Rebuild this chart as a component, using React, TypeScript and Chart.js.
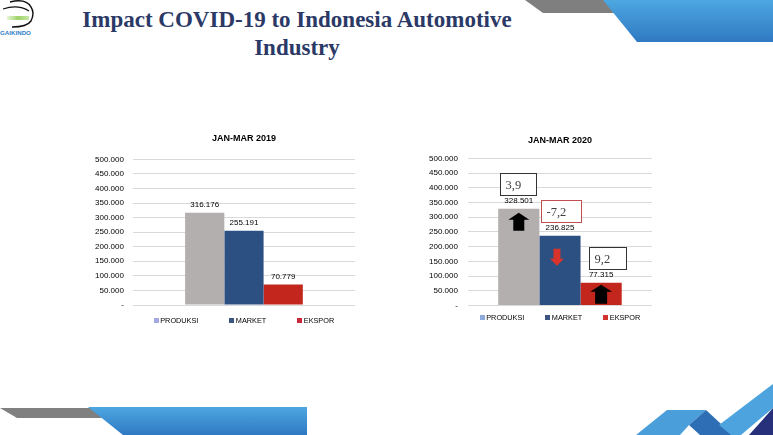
import React, { useEffect, useRef } from "react";
import { Chart, registerables } from "chart.js";

Chart.register(...registerables);

// ---------- data ----------
const SERIES = ["PRODUKSI", "MARKET", "EKSPOR"];
const TITLE_2019 = "JAN-MAR 2019";
const TITLE_2020 = "JAN-MAR 2020";
const VALUES_2019 = [316176, 255191, 70779];
const VALUES_2020 = [328501, 236825, 77315];
const GROWTH_2020 = ["3,9", "-7,2", "9,2"];
const Y_MIN = 0;
const Y_MAX = 500000;
const Y_STEP = 50000;
const HEADLINE = ["Impact COVID-19 to Indonesia Automotive", "Industry"];
const LOGO_TEXT = "GAIKINDO";

// ---------- styles ----------
const SANS = "'Liberation Sans', Arial, sans-serif";
const SERIF = "'Liberation Serif', 'Times New Roman', serif";
const BAR_COLORS = ["#B4AFAF", "#2D5082", "#C3261C"];
const LEGEND_COLORS_2019 = ["#A6A8E2", "#3B5580", "#C8283A"];
const LEGEND_COLORS_2020 = ["#8EA9DB", "#3B5580", "#D0342C"];
const BOX_STYLE = [
  { dx: 2, w: 36, color: "#333333" },
  { dx: 2, w: 40, color: "#C0504D" },
  { dx: 8, w: 37, color: "#333333" },
];
const ARROW_STYLE = [
  { dx: 0, dy: 4, len: 18, headW: 21, headH: 7, shaftW: 11, color: "#000000" },
  { dx: -3, dy: 13, len: 17, headW: 14, headH: 7, shaftW: 7, color: "#D9342B" },
  { dx: 0, dy: 2, len: 19, headW: 22, headH: 7, shaftW: 12, color: "#000000" },
];

const fmt = (v: number) =>
  v === 0 ? "-" : String(Math.round(v)).replace(/\B(?=(\d{3})+(?!\d))/g, ".");

const valueLabelPlugin = {
  id: "valueLabels",
  afterDatasetsDraw(chart: any) {
    const ctx = chart.ctx;
    ctx.save();
    ctx.font = `8px ${SANS}`;
    ctx.fillStyle = "#000";
    ctx.textAlign = "center";
    ctx.textBaseline = "middle";
    chart.data.datasets.forEach((ds: any, i: number) => {
      const el = chart.getDatasetMeta(i).data[0];
      ctx.fillText(fmt(ds.data[0]), el.x, el.y - 8);
    });
    ctx.restore();
  },
};

function makeLegendPlugin(colors: string[], dy: number, spacing: number) {
  return {
    id: "customLegend",
    afterDraw(chart: any) {
      const ctx = chart.ctx;
      const area = chart.chartArea;
      ctx.save();
      ctx.font = `7.3px ${SANS}`;
      const box = 5;
      const gap = 1.5;
      const widths = SERIES.map((s) => box + gap + ctx.measureText(s).width);
      const total = widths.reduce((a, b) => a + b, 0) + spacing * (SERIES.length - 1);
      let x = (area.left + area.right) / 2 - total / 2;
      const y = area.bottom + dy;
      ctx.textBaseline = "middle";
      ctx.textAlign = "left";
      SERIES.forEach((s, i) => {
        ctx.fillStyle = colors[i];
        ctx.fillRect(Math.round(x), Math.round(y - box / 2), box, box);
        ctx.fillStyle = "#000";
        ctx.fillText(s, x + box + gap, y + 0.5);
        x += widths[i] + spacing;
      });
      ctx.restore();
    },
  };
}

const growthPlugin = {
  id: "growthMarks",
  afterDatasetsDraw(chart: any) {
    const ctx = chart.ctx;
    ctx.save();
    GROWTH_2020.forEach((g, i) => {
      const el = chart.getDatasetMeta(i).data[0];
      const left = el.x - el.width / 2;
      // arrow inside bar
      const a = ARROW_STYLE[i];
      const up = !g.trim().startsWith("-");
      const cx = el.x + a.dx;
      ctx.fillStyle = a.color;
      ctx.beginPath();
      if (up) {
        const tip = el.y + a.dy;
        ctx.moveTo(cx, tip);
        ctx.lineTo(cx + a.headW / 2, tip + a.headH);
        ctx.lineTo(cx + a.shaftW / 2, tip + a.headH);
        ctx.lineTo(cx + a.shaftW / 2, tip + a.len);
        ctx.lineTo(cx - a.shaftW / 2, tip + a.len);
        ctx.lineTo(cx - a.shaftW / 2, tip + a.headH);
        ctx.lineTo(cx - a.headW / 2, tip + a.headH);
      } else {
        const top = el.y + a.dy;
        const tip = top + a.len;
        ctx.moveTo(cx - a.shaftW / 2, top);
        ctx.lineTo(cx + a.shaftW / 2, top);
        ctx.lineTo(cx + a.shaftW / 2, tip - a.headH);
        ctx.lineTo(cx + a.headW / 2, tip - a.headH);
        ctx.lineTo(cx, tip);
        ctx.lineTo(cx - a.headW / 2, tip - a.headH);
        ctx.lineTo(cx - a.shaftW / 2, tip - a.headH);
      }
      ctx.closePath();
      ctx.fill();
      // growth box above bar
      const b = BOX_STYLE[i];
      const bh = 22;
      const bx = Math.round(left + b.dx) + 0.5;
      const by = Math.round(el.y - 14 - bh) + 0.5;
      ctx.fillStyle = "#ffffff";
      ctx.fillRect(bx, by, b.w, bh);
      ctx.strokeStyle = b.color;
      ctx.lineWidth = 1;
      ctx.strokeRect(bx, by, b.w, bh);
      ctx.fillStyle = "#404040";
      ctx.font = `12.5px ${SERIF}`;
      ctx.textAlign = "left";
      ctx.textBaseline = "middle";
      ctx.fillText(g, bx + 5, by + bh / 2 + 1);
    });
    ctx.restore();
  },
};

type Cfg = {
  title: string;
  values: number[];
  legendColors: string[];
  catPct: number;
  padding: { left: number; right: number; top: number; bottom: number };
  titlePad: { top: number; bottom: number };
  tickPad: number;
  legendDy: number;
  legendSpacing: number;
  growth: boolean;
};

function makeConfig(c: Cfg): any {
  const plugins: any[] = [];
  if (c.growth) plugins.push(growthPlugin);
  plugins.push(valueLabelPlugin, makeLegendPlugin(c.legendColors, c.legendDy, c.legendSpacing));
  return {
    type: "bar",
    data: {
      labels: [""],
      datasets: SERIES.map((s, i) => ({
        label: s,
        data: [c.values[i]],
        backgroundColor: BAR_COLORS[i],
        borderWidth: 0,
        categoryPercentage: c.catPct,
        barPercentage: 1,
      })),
    },
    options: {
      responsive: false,
      animation: false,
      events: [],
      layout: { padding: c.padding },
      plugins: {
        legend: { display: false },
        tooltip: { enabled: false },
        title: {
          display: true,
          text: c.title,
          fullSize: false,
          color: "#000",
          font: { family: SANS, size: 9, weight: "bold" },
          padding: c.titlePad,
        },
      },
      scales: {
        x: { display: false },
        y: {
          min: Y_MIN,
          max: Y_MAX,
          ticks: {
            stepSize: Y_STEP,
            callback: (v: any) => fmt(Number(v)),
            color: "#000",
            font: { family: SANS, size: 8 },
            padding: c.tickPad,
          },
          grid: { color: "#D9D9D9", lineWidth: 1, drawTicks: false },
          border: { display: false },
        },
      },
    },
    plugins,
  };
}

function BarChart(props: { cfg: any; left: number; top: number; width: number; height: number }) {
  const ref = useRef<HTMLCanvasElement>(null);
  useEffect(() => {
    const chart = new Chart(ref.current as HTMLCanvasElement, props.cfg);
    return () => chart.destroy();
  }, []);
  return (
    <canvas
      ref={ref}
      width={props.width}
      height={props.height}
      style={{ position: "absolute", left: props.left, top: props.top, width: props.width, height: props.height }}
    />
  );
}

const cfg2019 = makeConfig({
  title: TITLE_2019,
  values: VALUES_2019,
  legendColors: LEGEND_COLORS_2019,
  catPct: 0.53,
  padding: { left: 6, right: 15, top: 0, bottom: 34 },
  titlePad: { top: 5, bottom: 15.5 },
  tickPad: 9,
  legendDy: 15,
  legendSpacing: 31,
  growth: false,
});

const cfg2020 = makeConfig({
  title: TITLE_2020,
  values: VALUES_2020,
  legendColors: LEGEND_COLORS_2020,
  catPct: 0.671,
  padding: { left: 7, right: 18, top: 0, bottom: 34.5 },
  titlePad: { top: 5.3, bottom: 12.2 },
  tickPad: 10,
  legendDy: 11.5,
  legendSpacing: 21,
  growth: true,
});

function Decor() {
  return (
    <svg width={773} height={435} style={{ position: "absolute", left: 0, top: 0 }}>
      <defs>
        <linearGradient id="blueGrad" x1="0" y1="0" x2="0" y2="1">
          <stop offset="0" stopColor="#4DA7E0" />
          <stop offset="1" stopColor="#2F79C3" />
        </linearGradient>
        <linearGradient id="greenGrad" x1="0" y1="0" x2="1" y2="0">
          <stop offset="0" stopColor="#E8F5D8" />
          <stop offset="0.5" stopColor="#9ED36A" />
          <stop offset="1" stopColor="#C7E8A5" />
        </linearGradient>
      </defs>
      {/* top right */}
      <polygon points="525,0 606,0 615,13 543,13" fill="#7F7F7F" />
      <polygon points="603,0 773,0 773,42 637,42" fill="url(#blueGrad)" />
      {/* bottom left */}
      <polygon points="0,408 95,408 102,418 17,418" fill="#808080" />
      <polygon points="88,407 307,407 307,435 123,435" fill="url(#blueGrad)" />
      {/* bottom right */}
      <polygon points="636,435 667,410 706,410 689,425 680,435" fill="#4A9FDB" />
      <polygon points="706,410 733,435 700,435 689,425" fill="#2E6EB5" />
      <polygon points="719,425 773,384 773,408 741,435 731,435" fill="#4DA3DD" />
      <polygon points="773,408 773,435 749,435" fill="#27307A" />
      {/* logo */}
      <path d="M 10 2 Q 26 -2 31 7 Q 35 13 31 21 Q 27 27 12 27" fill="none" stroke="#111" strokeWidth={1.4} />
      <path d="M 3 9 Q 18 4 29 11" fill="none" stroke="#111" strokeWidth={1.2} />
      <rect x={7} y={16} width={22} height={4} fill="url(#greenGrad)" />
      <text x={0} y={35} fontFamily={SANS} fontWeight="bold" fontSize={6.2} fill="#2F7FC8">
        {LOGO_TEXT}
      </text>
    </svg>
  );
}

export default function App() {
  return (
    <div
      style={{
        position: "fixed",
        left: 0,
        top: 0,
        width: 773,
        height: 435,
        background: "#ffffff",
        overflow: "hidden",
      }}
    >
      <Decor />
      <div
        style={{
          position: "absolute",
          left: 0,
          top: 6,
          width: 594,
          textAlign: "center",
          fontFamily: SERIF,
          fontWeight: "bold",
          fontSize: 23,
          lineHeight: "28px",
          color: "#2B3966",
          whiteSpace: "nowrap",
        }}
      >
        <div>{HEADLINE[0]}</div>
        <div>{HEADLINE[1]}</div>
      </div>
      <BarChart cfg={cfg2019} left={80} top={128} width={290} height={211} />
      <BarChart cfg={cfg2020} left={412} top={130} width={258} height={210} />
    </div>
  );
}
